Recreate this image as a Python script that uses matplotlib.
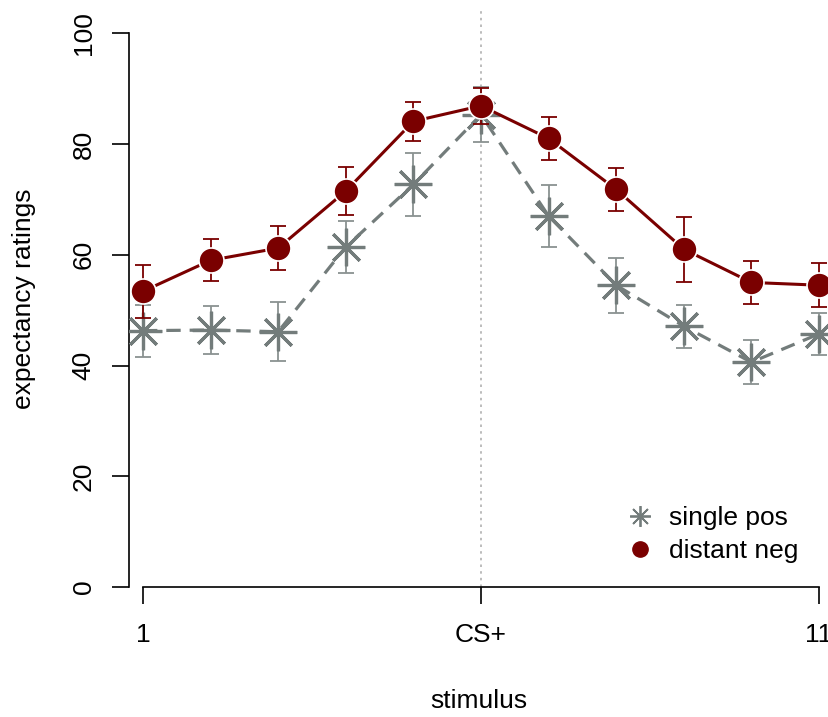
import numpy as np
import matplotlib.pyplot as plt
from matplotlib.lines import Line2D

plt.rcParams['font.family'] = ['Liberation Sans', 'DejaVu Sans']

# stimulus positions 1..11, CS+ in the middle
stimulus = np.arange(1, 12)
tick_pos = [1, 6, 11]
tick_labels = ['1', 'CS+', '11']

# single pos (grey asterisks, dashed)
single_pos = [46.3, 46.4, 46.1, 61.4, 72.7, 85.3, 67.0, 54.5, 47.1, 40.6, 45.7]
single_pos_se = [4.7, 4.4, 5.3, 4.7, 5.7, 5.0, 5.6, 5.0, 3.9, 4.0, 3.8]

# distant neg (dark red dots, solid)
distant_neg = [53.4, 59.0, 61.2, 71.5, 84.1, 86.9, 81.0, 71.8, 61.0, 55.0, 54.5]
distant_neg_se = [4.8, 3.8, 4.0, 4.4, 3.5, 3.3, 3.8, 3.9, 5.9, 3.85, 4.0]

red = '#7a0000'
grey = '#737c7b'
grey_bar = '#8a9291'

fig = plt.figure(figsize=(8.29, 7.17), dpi=100)
ax = fig.add_axes([129/829, 130/717, 700/829, 577/717])

ax.axvline(6, color='#b0b0b0', ls=(0, (1.5, 2.5)), lw=1.2, zorder=0)

# single pos first, distant neg drawn on top
ax.errorbar(stimulus, single_pos, yerr=single_pos_se, fmt='none',
            ecolor=grey_bar, elinewidth=1.3, capsize=5.5, capthick=1.3, zorder=2)
ax.plot(stimulus, single_pos, color=grey, lw=2.3, ls=(0, (4.5, 2.8)), zorder=2)
ax.plot(stimulus, single_pos, ls='none', marker=(8, 2, 0), ms=27,
        mec=grey, mew=2.3, zorder=3)

ax.errorbar(stimulus, distant_neg, yerr=distant_neg_se, fmt='none',
            ecolor=red, elinewidth=1.3, capsize=5.5, capthick=1.3, zorder=4)
ax.plot(stimulus, distant_neg, color=red, lw=2.2, zorder=4)
ax.plot(stimulus, distant_neg, ls='none', marker='o', ms=18,
        mfc=red, mec='white', mew=1.2, zorder=5)

ax.set_xlim(0.793, 11.148)
ax.set_ylim(0, 104.2)

for s in ['top', 'right']:
    ax.spines[s].set_visible(False)
ax.spines['left'].set_bounds(0, 100)
ax.spines['bottom'].set_bounds(1, 11)
for s in ['left', 'bottom']:
    ax.spines[s].set_linewidth(1.2)

ax.set_yticks([0, 20, 40, 60, 80, 100])
ax.set_yticklabels(['0', '20', '40', '60', '80', '100'], rotation=90, va='center')
ax.set_xticks(tick_pos)
ax.set_xticklabels(tick_labels)
ax.tick_params(axis='both', length=12, width=1.2, labelsize=19)
ax.tick_params(axis='y', pad=12)
ax.tick_params(axis='x', pad=14)

ax.set_xlabel('stimulus', fontsize=19, labelpad=30)
ax.set_ylabel('expectancy ratings', fontsize=19, labelpad=26)

handles = [
    Line2D([], [], ls='none', marker=(8, 2, 0), ms=15, mec=grey, mew=1.3),
    Line2D([], [], ls='none', marker='o', ms=11, mfc=red, mec=red),
]
ax.legend(handles, ['single pos', 'distant neg'], loc='lower right',
          bbox_to_anchor=(0.99, 0.0), frameon=False, fontsize=19,
          handlelength=1.0, handletextpad=0.6, labelspacing=0.35)

fig.savefig('out.png', dpi=100)
